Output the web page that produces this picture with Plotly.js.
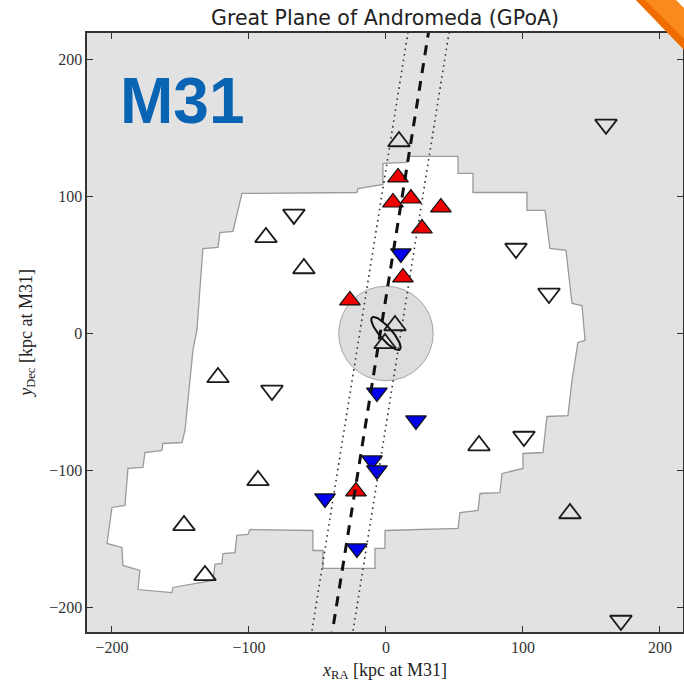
<!DOCTYPE html>
<html>
<head>
<meta charset="utf-8">
<script src="https://cdn.plot.ly/plotly-3.0.1.min.js"></script>
<style>
  html, body { margin: 0; padding: 0; background: #ffffff; }
  #chart { width: 684px; height: 688px; }
</style>
</head>
<body>
<div id="chart"></div>
<script>
// PAndAS survey footprint outline (kpc projected at M31)
const footX = [-105.1,-21.2,-20.4,-2.2,-2.2,15.3,16.1,52.6,52.6,63.5,63.5,102.9,102.9,116.1,119.7,131.4,135.8,143.1,145.3,140.1,135.8,132.8,117.5,116.1,114.6,100.0,100.0,84.7,83.2,68.6,67.2,54.0,52.6,-0.7,-0.7,-8.0,-8.0,-46.0,-46.0,-53.3,-53.3,-99.3,-100.7,-108.8,-110.2,-119.0,-119.7,-124.8,-126.3,-155.5,-156.2,-181.0,-179.6,-192.0,-192.7,-203.6,-200.0,-190.5,-188.3,-177.4,-175.9,-163.5,-162.8,-148.9,-146.7,-140.9,-138.0,-133.6,-122.6,-121.2,-111.7];
const footY = [102.2,102.9,105.8,108.8,124.1,124.8,129.2,129.2,116.8,116.8,102.9,102.9,89.8,89.8,62.0,60.6,21.9,20.4,-5.1,-6.6,-34.3,-59.9,-60.6,-73.0,-86.9,-87.6,-98.5,-102.2,-116.1,-116.8,-129.2,-130.7,-142.3,-143.8,-156.9,-156.9,-171.5,-171.5,-158.4,-158.4,-143.8,-143.1,-146.7,-147.4,-159.9,-160.6,-167.9,-168.6,-180.3,-185.4,-189.1,-186.9,-173.0,-169.3,-156.2,-153.3,-127.0,-125.5,-98.5,-97.8,-86.9,-85.4,-80.3,-79.6,-70.8,-12.4,2.2,62.0,62.8,73.7,74.5];

// Inner halo region around M31
const haloRadius = 34.5;

// Satellites outside the plane sample (open symbols)
const upOpenX = [9.5,-87.6,-59.9,-122.6,-93.4,-147.4,-132.1,67.9,134.3,6.6,-0.7];
const upOpenY = [140.1,70.1,47.4,-32.1,-107.3,-140.1,-176.6,-81.8,-131.4,5.8,-7.3];
const downOpenX = [-67.2,-83.2,94.9,119.0,100.7,160.6,171.5];
const downOpenY = [86.9,-41.6,62.0,29.2,-75.2,152.6,-209.5];

// Plane members: approaching (red) and receding (blue)
const redX = [8.8,5.1,18.2,40.1,26.3,12.4,-26.3,-21.9];
const redY = [113.9,95.6,98.5,92.0,76.6,40.9,24.1,-115.3];
const blueX = [10.9,-6.6,21.9,-10.2,-6.6,-44.5,-21.2];
const blueY = [58.4,-43.1,-63.5,-92.7,-100.0,-120.4,-156.9];

// Best-fit plane and its rms width
const planeY = [-225, 225];
const planeX = [-40.3, 31.9];
const planeLoX = [-55.3, 16.9];
const planeHiX = [-25.3, 46.9];

// M31 disc outline
const discA = 15.5, discB = 4.5, discAngle = -49;

const tickVals = [-200, -100, 0, 100, 200];

const discX = [], discY = [];
for (let i = 0; i <= 72; i++) {
  const t = i / 72 * 2 * Math.PI;
  const c = Math.cos(discAngle * Math.PI / 180), s = Math.sin(discAngle * Math.PI / 180);
  const u = discA * Math.cos(t), v = discB * Math.sin(t);
  discX.push(u * c - v * s);
  discY.push(u * s + v * c);
}

const footPath = 'M' + footX.map((x, i) => x + ',' + footY[i]).join(' L') + ' Z';

const traces = [
  { x: upOpenX, y: upOpenY, mode: 'markers', type: 'scatter',
    marker: { symbol: 'triangle-up-open', size: 19, color: '#1a1a1a', line: { width: 1.8, color: '#1a1a1a' } } },
  { x: downOpenX, y: downOpenY, mode: 'markers', type: 'scatter',
    marker: { symbol: 'triangle-down-open', size: 19, color: '#1a1a1a', line: { width: 1.8, color: '#1a1a1a' } } },
  { x: redX, y: redY, mode: 'markers', type: 'scatter',
    marker: { symbol: 'triangle-up', size: 18, color: '#ee0000', line: { width: 1.2, color: '#111' } } },
  { x: blueX, y: blueY, mode: 'markers', type: 'scatter',
    marker: { symbol: 'triangle-down', size: 18, color: '#0000ee', line: { width: 1.2, color: '#111' } } },
  { x: planeLoX, y: planeY, mode: 'lines', type: 'scatter',
    line: { color: '#333', width: 1.6, dash: '1.6px,4px' } },
  { x: planeHiX, y: planeY, mode: 'lines', type: 'scatter',
    line: { color: '#333', width: 1.6, dash: '1.6px,4px' } },
  { x: planeX, y: planeY, mode: 'lines', type: 'scatter',
    line: { color: '#111', width: 3, dash: '10px,8px' } },
  { x: discX, y: discY, mode: 'lines', type: 'scatter',
    line: { color: '#111', width: 2 } }
];

// pixel helpers for the decorative corner band (paper coordinates)
const L = 87, T = 33, W = 596, H = 599;
const px = v => (v - L) / W;
const py = v => 1 - (v - T) / H;

const axisCommon = {
  tickvals: tickVals,
  ticks: 'inside',
  ticklen: 6,
  tickwidth: 1,
  tickcolor: '#333',
  showline: true,
  linecolor: '#333',
  linewidth: 1.6,
  mirror: 'ticks',
  showgrid: false,
  zeroline: false,
  tickfont: { family: 'Liberation Serif, serif', size: 16, color: '#333' }
};

const layout = {
  width: 684,
  height: 688,
  margin: { l: 87, r: 1, t: 33, b: 56 },
  paper_bgcolor: '#ffffff',
  plot_bgcolor: '#e2e2e2',
  showlegend: false,
  title: {
    text: 'Great Plane of Andromeda (GPoA)',
    font: { family: 'DejaVu Sans, sans-serif', size: 20.5, color: '#222' },
    xref: 'paper', x: 0.5, xanchor: 'center',
    yref: 'container', y: 1 - 17.5 / 688, yanchor: 'middle'
  },
  xaxis: Object.assign({}, axisCommon, {
    range: [-218.2, 216.8],
    title: { text: '<i>x</i><sub>RA</sub> [kpc at M31]', font: { family: 'Liberation Serif, serif', size: 18, color: '#222' }, standoff: 8 }
  }),
  yaxis: Object.assign({}, axisCommon, {
    range: [-217.9, 219.3],
    title: { text: '<i>y</i><sub>Dec</sub> [kpc at M31]', font: { family: 'Liberation Serif, serif', size: 18, color: '#222' }, standoff: 12 }
  }),
  shapes: [
    { type: 'path', xref: 'x', yref: 'y', path: footPath, layer: 'below',
      fillcolor: '#ffffff', line: { color: '#9a9a9a', width: 1.3 } },
    { type: 'circle', xref: 'x', yref: 'y', layer: 'below',
      x0: -haloRadius, x1: haloRadius, y0: -haloRadius, y1: haloRadius,
      fillcolor: '#dddddd', line: { color: '#a5a5a5', width: 1 } },
    { type: 'path', xref: 'paper', yref: 'paper', layer: 'above',
      path: 'M' + px(634) + ',' + py(-2) + ' L' + px(674) + ',' + py(-2) + ' L' + px(690) + ',' + py(14) + ' L' + px(690) + ',' + py(56) + ' Z',
      fillcolor: '#fb8a1e', line: { width: 0 } },
    { type: 'path', xref: 'paper', yref: 'paper', layer: 'above',
      path: 'M' + px(634) + ',' + py(-2) + ' L' + px(643) + ',' + py(-2) + ' L' + px(690) + ',' + py(45) + ' L' + px(690) + ',' + py(56) + ' Z',
      fillcolor: '#ef6c00', line: { width: 0 } }
  ],
  annotations: [
    { text: '<b>M31</b>', xref: 'paper', yref: 'paper', showarrow: false,
      x: px(118), xanchor: 'left', y: py(101), yanchor: 'middle',
      font: { family: 'Liberation Sans, Arial, sans-serif', size: 64, color: '#0a64b4' } }
  ]
};

Plotly.newPlot('chart', traces, layout, { displayModeBar: false, staticPlot: true });
</script>
</body>
</html>
